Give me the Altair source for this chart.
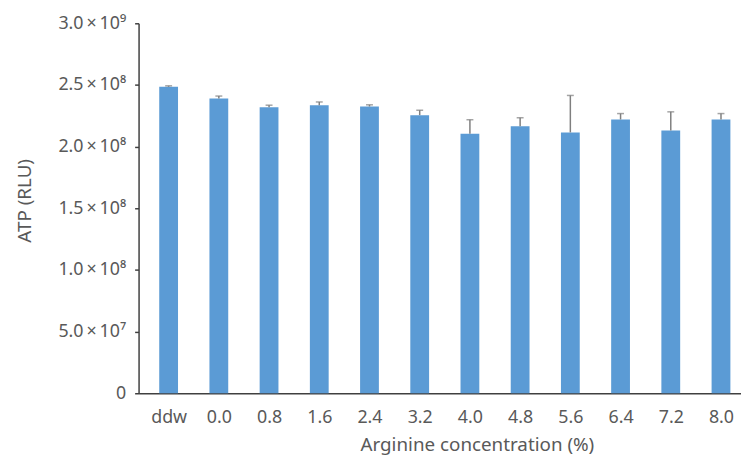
import altair as alt
import pandas as pd

categories = ["ddw", "0.0", "0.8", "1.6", "2.4", "3.2", "4.0", "4.8", "5.6", "6.4", "7.2", "8.0"]
atp_mean = [2.485e8, 2.39e8, 2.32e8, 2.335e8, 2.325e8, 2.255e8, 2.105e8, 2.165e8, 2.115e8, 2.22e8, 2.13e8, 2.22e8]
atp_err = [0.8e6, 2.0e6, 1.6e6, 2.7e6, 1.4e6, 4.0e6, 11.3e6, 6.9e6, 30.0e6, 4.8e6, 15.2e6, 4.8e6]
y_tick_values = [0, 5e7, 1e8, 1.5e8, 2e8, 2.5e8, 3e8]
y_tick_labels = ["0", "5.0\u2009×\u200910\u2077", "1.0\u2009×\u200910\u2078", "1.5\u2009×\u200910\u2078",
                 "2.0\u2009×\u200910\u2078", "2.5\u2009×\u200910\u2078", "3.0\u2009×\u200910\u2079"]

df = pd.DataFrame({
    "idx": list(range(len(categories))),
    "cat": categories,
    "mean": atp_mean,
    "upper": [m + e for m, e in zip(atp_mean, atp_err)],
})

FONT = "Noto Sans"
TXT = "#595959"

x_label_expr = "[" + ",".join("'%s'" % c for c in categories) + "][datum.value]"
y_label_expr = "{" + ",".join("'%d':'%s'" % (int(v), l) for v, l in zip(y_tick_values, y_tick_labels)) + "}[''+datum.value]"

xscale = alt.Scale(domain=[-0.5, 11.3], nice=False, zero=False)
yscale = alt.Scale(domain=[0, 3e8], nice=False)

xaxis = alt.Axis(
    values=list(range(len(categories))), labelExpr=x_label_expr, ticks=False, tickSize=0,
    grid=False, labelPadding=25, labelBaseline="middle", labelFont=FONT, labelFontSize=18,
    labelColor=TXT,
    title="Arginine concentration (%)", titleFont=FONT, titleFontSize=19, titleFontWeight="normal",
    titleColor=TXT, titleX=342, titleY=58, titleAlign="center", titleBaseline="alphabetic",
    titleAnchor="start",
    domainColor="#404040", domainWidth=1.5,
)
yaxis = alt.Axis(
    values=y_tick_values, labelExpr=y_label_expr, grid=False, tickSize=4, tickColor="#404040",
    tickWidth=1.5, labelPadding=9, labelFont=FONT, labelFontSize=18, labelColor=TXT,
    labelBaseline="middle",
    title="ATP (RLU)", titleFont=FONT, titleFontSize=19, titleFontWeight="normal", titleColor=TXT,
    titleX=-115, titleY=179, titleAlign="center", titleBaseline="middle", titleAngle=270,
    titleAnchor="start",
    domainColor="#404040", domainWidth=1.5,
)

base = alt.Chart(df)
bars = base.mark_bar(color="#5B9BD5", size=19).encode(
    x=alt.X("idx:Q", scale=xscale, axis=xaxis),
    y=alt.Y("mean:Q", scale=yscale, axis=yaxis),
)
err = base.mark_rule(color="#7F7F7F", strokeWidth=1.5).encode(
    x=alt.X("idx:Q", scale=xscale), y=alt.Y("mean:Q", scale=yscale), y2="upper:Q"
)
caps = base.mark_tick(color="#7F7F7F", orient="horizontal", size=7, thickness=1.5).encode(
    x=alt.X("idx:Q", scale=xscale), y=alt.Y("upper:Q", scale=yscale)
)

chart = alt.layer(bars, err, caps).properties(
    width=609, height=374,
    autosize=alt.AutoSizeParams(type="none"),
    padding={"left": 132, "top": 13, "right": 0, "bottom": 64},
).configure_view(stroke=None)

chart.save("out.html", embed_options={"renderer": "svg", "actions": False})
